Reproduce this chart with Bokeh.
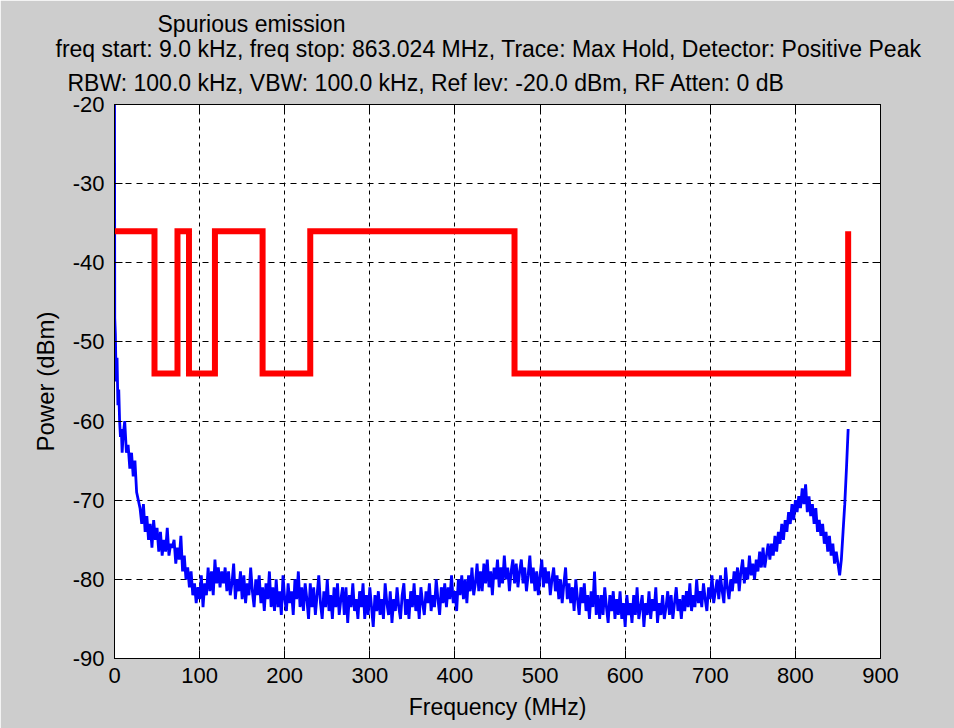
import numpy as np
from bokeh.plotting import figure
from bokeh.models import Range1d, LinearAxis, Title, FixedTicker
from bokeh.embed import file_html
from bokeh.resources import INLINE

# ---- data ----
title_lines = [
    "Spurious emission",
    "freq start:  9.0 kHz, freq stop: 863.024 MHz, Trace: Max Hold, Detector: Positive Peak",
    "RBW: 100.0 kHz, VBW: 100.0 kHz, Ref lev: -20.0 dBm, RF Atten: 0 dB",
]
x_ticks = [0, 100, 200, 300, 400, 500, 600, 700, 800, 900]
y_ticks = [-90, -80, -70, -60, -50, -40, -30, -20]
y_tick_labels = ["-90", "-80", "-70", "-60", "-50", "-40", "-30", "-20"]

# limit mask (MHz, dBm)
mask_freq = [0.009, 47, 47, 74, 74, 87.5, 87.5, 118, 118, 174, 174, 230, 230, 470, 470, 862, 862]
mask_level = [-36, -36, -54, -54, -36, -36, -54, -54, -36, -36, -54, -54, -36, -36, -54, -54, -36]

# start of measured trace (fine steps)
trace_start_freq = [0.009, 0.3, 1, 2, 3, 4, 5, 6, 7, 8, 9]
trace_start_level = [-20, -47, -49, -55, -52, -58, -56, -60, -62, -61, -64]

# measured trace, 10 MHz .. 862 MHz in 2 MHz steps
trace_level = [
    -62, -60, -64, -63, -66, -64, -67, -65, -69, -70,
    -71, -73, -70.5, -74, -72, -75, -73, -76, -72.5, -75,
    -73.5, -76.5, -74, -77, -75, -76.5, -73.5, -77, -75.5, -76,
    -75, -78, -76, -77.5, -74.5, -79, -77, -80, -78.5, -81,
    -79, -82, -80.5, -83, -81, -82.5, -79.5, -83.5, -80.5, -82,
    -78.5, -81.5, -79, -82, -77.5, -80.5, -78.5, -81, -79, -80.5,
    -78.5, -81.5, -79, -82, -80.5, -78, -82.5, -80, -81.5, -79,
    -82.5, -79.5, -83, -80.5, -82, -78.5, -81.5, -83.5, -80, -82,
    -79.5, -83, -81, -84, -80.5, -82.5, -79, -83.5, -81, -84,
    -80, -83.5, -81.5, -84.5, -79.5, -82.5, -84, -80.5, -83, -81.5,
    -84.5, -80, -82.5, -79, -83.5, -81, -84, -80.5, -82.5, -85,
    -80.5, -83.5, -81, -84.5, -82, -79.5, -83, -85, -81.5, -83.5,
    -80, -84, -82, -85, -81, -83.5, -80.5, -84.5, -82.5, -81,
    -84.5, -81, -85.5, -82, -83.5, -80.5, -84, -82.5, -85, -81.5,
    -83.5, -80.5, -85, -82, -84.5, -81, -83.5, -86, -82, -84,
    -81.5, -84.5, -82.5, -85, -80.5, -83, -84.5, -81.5, -85.5, -82.5,
    -84, -81, -83.5, -85, -82, -80.5, -84.5, -82.5, -85, -81.5,
    -83.5, -80.5, -84, -82, -85, -81, -83, -84.5, -81.5, -83,
    -80.5, -84, -82, -83.5, -80, -82.5, -84.5, -81, -83, -80.5,
    -83.5, -81, -82.5, -79.5, -83, -81.5, -84, -80, -82, -79.5,
    -82.5, -80, -83, -79.5, -81.5, -78.5, -82, -80.5, -78, -81.5,
    -79, -81.5, -78, -80.5, -77.5, -81, -79, -82, -78.5, -80,
    -77.5, -81, -78.5, -80.5, -77, -80, -78.5, -81.5, -79, -77.5,
    -80.5, -78, -81, -79, -77.5, -80.5, -78.5, -81.5, -79.5, -77,
    -80.5, -78.5, -81.5, -79, -82, -79.5, -77.5, -81, -78.5, -80.5,
    -79, -82, -80, -78.5, -81.5, -79.5, -82.5, -80, -83, -80.5,
    -78.5, -82.5, -80.5, -83, -81, -84, -80, -82.5, -84.5, -81,
    -83, -80.5, -84, -82, -85, -81.5, -83.5, -79, -84.5, -82,
    -85, -82, -84.5, -81, -83.5, -85.5, -82, -84, -81.5, -85,
    -82.5, -84.5, -81.5, -85, -83, -86, -82, -84.5, -83, -85.5,
    -82, -84.5, -81, -85, -83.5, -82, -86, -83, -84.5, -81.5,
    -85, -82.5, -84, -81, -85.5, -83, -84.5, -82, -85, -83.5,
    -81.5, -84.5, -82, -85, -83, -81, -84, -82.5, -85, -82,
    -84, -81.5, -83.5, -80.5, -84, -82, -83.5, -80, -83, -81.5,
    -83.5, -80.5, -82.5, -84, -81, -82.5, -79.5, -83, -81.5, -80,
    -82.5, -79.5, -81.5, -83, -78.5, -81, -82.5, -80, -81.5, -79,
    -80.5, -78.5, -81.5, -79, -77.5, -80.5, -78.5, -80, -77, -79.5,
    -78, -80, -77.5, -79, -76.5, -78.5, -76, -78.5, -77, -75.5,
    -77.5, -75.5, -77, -74.5, -76.5, -74, -75.5, -73, -75, -72.5,
    -74, -71.5, -73, -70.5, -72.5, -70, -71.5, -69.5, -71, -68.5,
    -70.5, -68, -71.5, -69.5, -72, -70.5, -73, -71, -74, -72.5,
    -74.5, -73, -75.5, -74, -76.5, -74.5, -77, -75.5, -78, -76.5,
    -78, -79.5, -77.5, -74, -70.5, -66, -61,
]
trace_freq = list(range(10, 10 + 2 * len(trace_level), 2))

freq_all = trace_start_freq + trace_freq
level_all = trace_start_level + trace_level

# ---- figure ----
BG = "#cdcdcd"
FONT = "Liberation Sans"

p = figure(width=954, height=728, output_backend="svg", toolbar_location=None,
           x_range=Range1d(0, 900), y_range=Range1d(-90, -20),
           min_border_left=114, min_border_right=74, min_border_top=104, min_border_bottom=70)
p.border_fill_color = BG
p.background_fill_color = "white"
p.outline_line_color = "black"
p.outline_line_width = 1

p.line(freq_all, level_all, line_color="#0000ff", line_width=2.8)
p.line(mask_freq, mask_level, line_color="#ff0000", line_width=6, line_join="miter")

for ax in (p.xaxis[0], p.yaxis[0]):
    ax.major_label_text_font = FONT
    ax.major_label_text_font_size = "22px"
    ax.major_label_text_color = "black"
    ax.axis_label_text_font = FONT
    ax.axis_label_text_font_style = "normal"
    ax.axis_label_text_color = "black"
    ax.major_tick_in = 8
    ax.major_tick_out = 0
    ax.minor_tick_in = 0
    ax.minor_tick_out = 0
    ax.axis_line_color = "black"
    ax.major_tick_line_color = "black"

p.xaxis[0].ticker = FixedTicker(ticks=x_ticks)
p.yaxis[0].ticker = FixedTicker(ticks=y_ticks)
p.yaxis[0].major_label_overrides = {t: s for t, s in zip(y_ticks, y_tick_labels)}
p.xaxis[0].axis_label = "Frequency (MHz)"
p.yaxis[0].axis_label = "Power (dBm)"
p.xaxis[0].axis_label_text_font_size = "23px"
p.yaxis[0].axis_label_text_font_size = "24px"
p.xaxis[0].major_label_standoff = 9
p.yaxis[0].major_label_standoff = 10
p.xaxis[0].axis_label_standoff = 8
p.yaxis[0].axis_label_standoff = 11

for loc in ("right", "above"):
    ticks = y_ticks if loc == "right" else x_ticks
    a = LinearAxis(ticker=FixedTicker(ticks=ticks),
                   major_label_overrides={t: "" for t in ticks},
                   major_label_standoff=0,
                   major_tick_in=8, major_tick_out=0,
                   minor_tick_in=0, minor_tick_out=0, axis_line_color="black",
                   major_tick_line_color="black")
    p.add_layout(a, loc)

p.xgrid.ticker = FixedTicker(ticks=x_ticks)
p.ygrid.ticker = FixedTicker(ticks=y_ticks)
p.xgrid.grid_line_color = "black"
p.xgrid.grid_line_dash = "4 4"
p.xgrid.grid_line_width = 1
p.ygrid.grid_line_color = "black"
p.ygrid.grid_line_dash = "6 5"
p.ygrid.grid_line_width = 1

# title lines, stacked above the frame (added innermost first)
title_offsets = [43, -59, -47]
title_standoffs = [0, -6, 18]
for txt, off, so in reversed(list(zip(title_lines, title_offsets, title_standoffs))):
    p.add_layout(Title(text=txt, align="left", offset=off, standoff=so,
                       text_font=FONT, text_font_size="23px", text_font_style="normal",
                       text_color="black"), "above")

open("out.html", "w").write(file_html(p, INLINE))
